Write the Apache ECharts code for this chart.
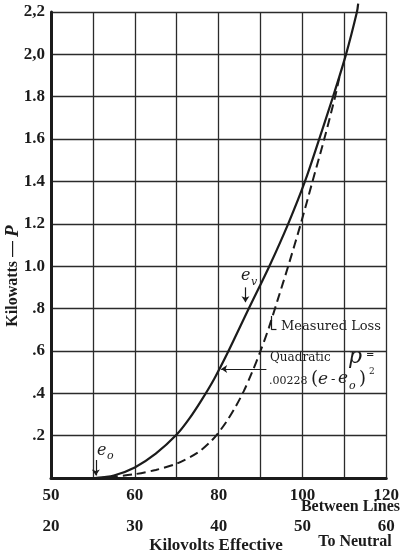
<!DOCTYPE html>
<html lang="en">
<head>
    <meta charset="UTF-8">
    <title>Kilowatts - P</title>
    <script src="https://cdn.jsdelivr.net/npm/echarts@6/dist/echarts.min.js"></script>
    <style>
        html, body { margin: 0; padding: 0; background: #fff; }
        #chart { width: 402px; height: 556px; }
    </style>
</head>
<body>
<div id="chart"></div>
<script type="text/javascript">
    // kV between lines (grid column 0 = 40) and kilowatts
    var measuredKv = [50.5, 55, 60, 65, 70, 73, 76, 79, 82, 87.2, 92.1, 96.6, 100.6, 104.0, 107.3, 110.4, 113.0, 113.3];
    var measuredKw = [0, 0.012, 0.05, 0.115, 0.205, 0.28, 0.37, 0.47, 0.585, 0.8, 1.0, 1.2, 1.4, 1.6, 1.8, 2.0, 2.2, 2.24];

    var quadKv = [50.5, 55, 60, 65, 70, 75, 78, 80, 82, 84, 86, 88, 90, 92, 94, 96.6, 99.6, 102.4, 105.2, 107.8, 108.9];
    var quadKw = [0, 0.006, 0.018, 0.038, 0.068, 0.12, 0.17, 0.215, 0.27, 0.335, 0.41, 0.5, 0.6, 0.71, 0.835, 1.0, 1.2, 1.4, 1.6, 1.8, 1.9];

    // tick labels as printed
    var betweenLinesTicks = ['50', '', '60', '', '80', '', '100', '', '120'];
    var toNeutralTicks = ['20', '', '30', '', '40', '', '50', '', '60'];
    var kwTicks = ['', '.2', '.4', '.6', '.8', '1.0', '1.2', '1.4', '1.6', '1.8', '2,0', '2,2'];

    var ink = '#1b1b1b';
    var bold = 'Liberation Serif';

    function pairs(xs, ys) {
        var out = [];
        for (var i = 0; i < xs.length; i++) out.push([xs[i], ys[i]]);
        return out;
    }

    var myChart = echarts.init(document.getElementById('chart'), null, {renderer: 'canvas'});

    var tickFont = {color: ink, fontFamily: bold, fontWeight: 'bold', fontSize: 17};

    var option = {
        backgroundColor: '#fff',
        animation: false,
        grid: {left: 51, right: 11, top: 12, bottom: 78},
        xAxis: [{
            type: 'value', min: 40, max: 120, interval: 10, position: 'bottom',
            axisLine: {show: true, onZero: false, lineStyle: {color: ink, width: 3}},
            axisTick: {show: false},
            splitLine: {show: true, lineStyle: {color: '#2b2b2b', width: 1.3}},
            axisLabel: Object.assign({
                margin: 9,
                formatter: function (v) { return betweenLinesTicks[Math.round((v - 40) / 10)]; }
            }, tickFont)
        }, {
            type: 'value', min: 40, max: 120, interval: 10, position: 'bottom', offset: 31,
            axisLine: {show: false}, axisTick: {show: false}, splitLine: {show: false},
            axisLabel: Object.assign({
                margin: 9,
                formatter: function (v) { return toNeutralTicks[Math.round((v - 40) / 10)]; }
            }, tickFont)
        }],
        yAxis: {
            type: 'value', min: 0, max: 2.2, interval: 0.2,
            axisLine: {show: true, lineStyle: {color: ink, width: 3}},
            axisTick: {show: false},
            splitLine: {show: true, lineStyle: {color: '#2b2b2b', width: 1.3}},
            axisLabel: Object.assign({
                margin: 6,
                padding: [6, 0, 0, 0],
                formatter: function (v) { return kwTicks[Math.round(v / 0.2)]; }
            }, tickFont)
        },
        series: [{
            name: 'Measured Loss',
            type: 'line',
            data: pairs(measuredKv, measuredKw),
            smooth: 0.3,
            symbol: 'none',
            clip: false,
            lineStyle: {color: ink, width: 2.2},
            markLine: {
                silent: true,
                symbol: ['none', 'arrow'],
                symbolSize: 6,
                label: {show: false},
                lineStyle: {color: ink, width: 1.2, type: 'solid'},
                data: [
                    [{coord: [50.7, 0.085]}, {coord: [50.7, 0.012]}],
                    [{coord: [86.4, 0.9]}, {coord: [86.4, 0.83]}],
                    [{coord: [91.4, 0.515]}, {coord: [80.6, 0.515]}]
                ]
            }
        }, {
            name: 'Quadratic',
            type: 'line',
            data: pairs(quadKv, quadKw),
            smooth: 0.3,
            symbol: 'none',
            lineStyle: {color: ink, width: 2, type: [9, 5]},
            markLine: {
                silent: true,
                symbol: ['none', 'none'],
                label: {show: false},
                lineStyle: {color: ink, width: 1.2, type: 'solid'},
                data: [
                    [{coord: [92.6, 0.765]}, {coord: [92.6, 0.70]}],
                    [{coord: [92.6, 0.70]}, {coord: [93.8, 0.70]}]
                ]
            }
        }],
        graphic: [
            // axis titles
            {type: 'text', x: 13, y: 276, rotation: Math.PI / 2,
                style: {text: '{a|Kilowatts — }{p|P}', align: 'center', verticalAlign: 'middle',
                    rich: {
                        a: {fontFamily: bold, fontWeight: 'bold', fontSize: 16, fill: ink},
                        p: {fontFamily: bold, fontWeight: 'bold', fontStyle: 'italic', fontSize: 19, fill: ink}
                    }}},
            {type: 'text', x: 400, y: 507,
                style: {text: 'Between Lines', align: 'right', verticalAlign: 'middle',
                    fontFamily: bold, fontWeight: 'bold', fontSize: 16, fill: ink}},
            {type: 'text', x: 355, y: 542,
                style: {text: 'To Neutral', align: 'center', verticalAlign: 'middle',
                    fontFamily: bold, fontWeight: 'bold', fontSize: 16, fill: ink}},
            {type: 'text', x: 216, y: 546,
                style: {text: 'Kilovolts Effective', align: 'center', verticalAlign: 'middle',
                    fontFamily: bold, fontWeight: 'bold', fontSize: 17, fill: ink}},
            // e_o
            {type: 'text', x: 97, y: 451,
                style: {text: 'e', align: 'left', verticalAlign: 'middle',
                    fontFamily: 'DejaVu Serif', fontStyle: 'italic', fontSize: 16, fill: ink}},
            {type: 'text', x: 107, y: 456,
                style: {text: 'o', align: 'left', verticalAlign: 'middle',
                    fontFamily: 'DejaVu Serif', fontStyle: 'italic', fontSize: 11, fill: ink}},
            // e_v
            {type: 'text', x: 241, y: 276,
                style: {text: 'e', align: 'left', verticalAlign: 'middle',
                    fontFamily: 'DejaVu Serif', fontStyle: 'italic', fontSize: 16, fill: ink}},
            {type: 'text', x: 251, y: 282,
                style: {text: 'v', align: 'left', verticalAlign: 'middle',
                    fontFamily: 'DejaVu Serif', fontStyle: 'italic', fontSize: 11, fill: ink}},
            // measured loss
            {type: 'text', x: 281, y: 327,
                style: {text: 'Measured Loss', align: 'left', verticalAlign: 'middle',
                    fontFamily: 'DejaVu Serif', fontSize: 13, fill: ink}},
            // quadratic formula
            {type: 'text', x: 270, y: 358,
                style: {text: 'Quadratic', align: 'left', verticalAlign: 'middle',
                    fontFamily: 'DejaVu Serif', fontSize: 12, fill: ink}},
            {type: 'text', x: 348, y: 357,
                style: {text: 'p', align: 'left', verticalAlign: 'middle',
                    fontFamily: 'DejaVu Serif', fontStyle: 'italic', fontSize: 22, fill: ink}},
            {type: 'text', x: 366, y: 354,
                style: {text: '=', align: 'left', verticalAlign: 'middle',
                    fontFamily: 'DejaVu Serif', fontWeight: 'bold', fontSize: 10, fill: ink}},
            {type: 'text', x: 269, y: 381,
                style: {text: '.00228', align: 'left', verticalAlign: 'middle',
                    fontFamily: 'DejaVu Serif', fontSize: 11, fill: ink}},
            {type: 'text', x: 311, y: 379,
                style: {text: '(', align: 'left', verticalAlign: 'middle',
                    fontFamily: 'DejaVu Serif', fontSize: 18, fill: ink}},
            {type: 'text', x: 318, y: 380,
                style: {text: 'e', align: 'left', verticalAlign: 'middle',
                    fontFamily: 'DejaVu Serif', fontStyle: 'italic', fontSize: 17, fill: ink}},
            {type: 'text', x: 331, y: 380,
                style: {text: '-', align: 'left', verticalAlign: 'middle',
                    fontFamily: 'DejaVu Serif', fontSize: 13, fill: ink}},
            {type: 'text', x: 338, y: 379,
                style: {text: 'e', align: 'left', verticalAlign: 'middle',
                    fontFamily: 'DejaVu Serif', fontStyle: 'italic', fontSize: 17, fill: ink}},
            {type: 'text', x: 349, y: 386,
                style: {text: 'o', align: 'left', verticalAlign: 'middle',
                    fontFamily: 'DejaVu Serif', fontStyle: 'italic', fontSize: 11, fill: ink}},
            {type: 'text', x: 359, y: 379,
                style: {text: ')', align: 'left', verticalAlign: 'middle',
                    fontFamily: 'DejaVu Serif', fontSize: 18, fill: ink}},
            {type: 'text', x: 369, y: 372,
                style: {text: '2', align: 'left', verticalAlign: 'middle',
                    fontFamily: 'DejaVu Serif', fontSize: 9, fill: ink}}
        ]
    };
    myChart.setOption(option);
</script>
</body>
</html>
